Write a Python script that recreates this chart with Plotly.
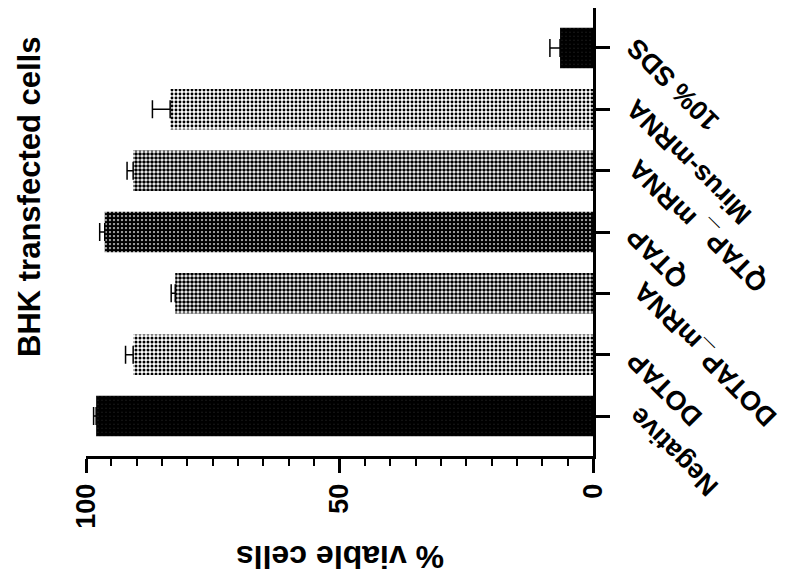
import plotly.graph_objects as go

categories = ["Negative", "DOTAP", "DOTAP_mRNA", "QTAP", "QTAP_mRNA", "Mirus-mRNA", "10% SDS"]
viable = [98.0, 90.7, 82.4, 96.3, 90.7, 83.4, 6.5]
err_plus = [0.5, 1.5, 0.8, 1.0, 1.2, 3.5, 2.0]
value_ticks = [0, 50, 100]
value_tick_text = ["0", "50", "100"]
title_text = "BHK transfected cells"
axis_title = "% viable cells"

# (text, category index, page x of label left, y shift from tick in px)
label_parts = [
    ("Negative", 0, 621, 17),
    ("DOTAP", 1, 619, 11),
    ("mRNA", 2, 626, 19),
    ("DOTAP_", 2, 683, -40),
    ("QTAP", 3, 619, 12),
    ("mRNA", 4, 621, 19),
    ("QTAP_", 4, 688, -42),
    ("Mirus-mRNA", 5, 619, 18),
    ("10% SDS", 6, 620, 17),
]

solid = [0.9, 0.45, 0.62, 0.8, 0.62, 0.42, 0.9]

OFF = 8  # page body margin
W, H = 787 - OFF, 583 - OFF
L, R, T, B = 78, 787 - 593, 0, 583 - 456
pw = W - L - R
ph = H - T - B
FONT = "Liberation Sans, Arial, sans-serif"


def px_to_paper_x(px):
    return (px - OFF - L) / pw


def py_to_paper_y(py):
    return (H - B - (py - OFF)) / ph


fig = go.Figure()
fig.add_trace(go.Bar(
    y=categories, x=viable, orientation="h", width=0.66,
    marker=dict(color="white", line=dict(width=0),
                pattern=dict(shape=".", fgcolor="black", bgcolor="white",
                             size=4, solidity=solid, fillmode="replace")),
    error_x=dict(type="data", symmetric=False, array=err_plus,
                 arrayminus=[0] * len(err_plus), color="black",
                 thickness=1.5, width=9),
    showlegend=False,
))

fig.update_xaxes(
    range=[100, 0], tickvals=value_ticks, ticktext=value_tick_text,
    tickangle=-90, ticks="outside", ticklen=14, tickwidth=3, tickcolor="black",
    minor=dict(dtick=5, ticks="outside", ticklen=7, tickwidth=2, tickcolor="black"),
    showline=True, linewidth=3, linecolor="black", showgrid=False, zeroline=False,
    tickfont=dict(family=FONT, size=27, color="black", weight="bold"),
)
fig.update_yaxes(
    type="category", side="right", range=[-0.652, 6.652],
    ticks="outside", ticklen=14, tickwidth=3, tickcolor="black",
    showline=True, linewidth=3, linecolor="black", showgrid=False,
    zeroline=False, showticklabels=False,
)

ann = []
ann.append(dict(text=title_text, textangle=-90, xref="paper", yref="paper",
                x=px_to_paper_x(29), y=py_to_paper_y(197), showarrow=False,
                xanchor="center", yanchor="middle",
                font=dict(family=FONT, size=31, color="black", weight="bold")))
ann.append(dict(text=axis_title, textangle=180, xref="paper", yref="paper",
                x=px_to_paper_x(340), y=py_to_paper_y(557), showarrow=False,
                xanchor="center", yanchor="middle",
                font=dict(family=FONT, size=32, color="black", weight="bold")))
for txt, ci, px, dy in label_parts:
    ann.append(dict(text=txt, textangle=-135, xref="paper", yref="y",
                    x=px_to_paper_x(px), y=categories[ci], yshift=dy,
                    showarrow=False, xanchor="left", yanchor="top",
                    borderpad=0,
                    font=dict(family=FONT, size=27, color="black", weight="bold")))

fig.update_layout(
    width=W, height=H, margin=dict(l=L, r=R, t=T, b=B),
    paper_bgcolor="white", plot_bgcolor="white", annotations=ann,
)
fig.write_html("out.html")
